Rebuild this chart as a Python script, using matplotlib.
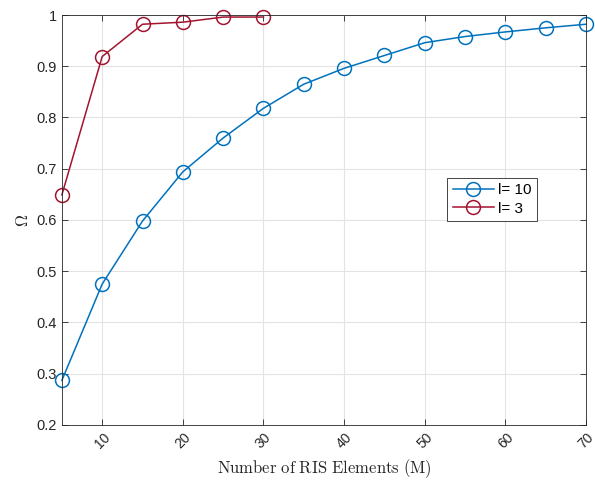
import matplotlib
matplotlib.use("Agg")
import matplotlib.pyplot as plt

plt.rcParams['font.family'] = ['Liberation Sans', 'DejaVu Sans']
plt.rcParams['mathtext.fontset'] = 'cm'

m_l10 = [5, 10, 15, 20, 25, 30, 35, 40, 45, 50, 55, 60, 65, 70]
omega_l10 = [0.287, 0.475, 0.598, 0.694, 0.760, 0.818, 0.865, 0.896,
             0.921, 0.946, 0.958, 0.967, 0.975, 0.982]

m_l3 = [5, 10, 15, 20, 25, 30]
omega_l3 = [0.649, 0.919, 0.982, 0.986, 0.996, 0.996]

x_ticks = [10, 20, 30, 40, 50, 60, 70]
y_ticks = [0.2, 0.3, 0.4, 0.5, 0.6, 0.7, 0.8, 0.9, 1.0]
y_labels = ['0.2', '0.3', '0.4', '0.5', '0.6', '0.7', '0.8', '0.9', '1']

fig = plt.figure(figsize=(5.95, 4.84), dpi=100)
ax = fig.add_axes([0.104, 0.122, 0.881, 0.847])

ax.plot(m_l10, omega_l10, color='#0072BD', marker='o', markersize=10,
        fillstyle='none', markeredgewidth=1.1, linewidth=1.1, label='l= 10',
        clip_on=False)
ax.plot(m_l3, omega_l3, color='#A2142F', marker='o', markersize=10,
        fillstyle='none', markeredgewidth=1.1, linewidth=1.1, label='l= 3',
        clip_on=False)

ax.set_xlim(5, 70)
ax.set_ylim(0.2, 1.0)
ax.set_xticks(x_ticks)
ax.set_yticks(y_ticks)
ax.set_yticklabels(y_labels)
plt.setp(ax.get_xticklabels(), rotation=45)

ax.grid(True, color='#e3e3e3', linewidth=0.8)
ax.set_axisbelow(True)
ax.tick_params(direction='in', top=True, right=True, labelsize=10.5,
               colors='#262626', length=4, width=0.6)
ax.tick_params(axis='x', pad=4, labelsize=10)
for s in ax.spines.values():
    s.set_color('#262626')
    s.set_linewidth(0.6)

ax.set_xlabel(r'$\mathrm{Number\ of\ RIS\ Elements\ (M)}$', fontsize=12,
              color='#262626', labelpad=4)
ax.set_ylabel(r'$\Omega$', fontsize=12, color='#262626', labelpad=4)

leg = ax.legend(loc='upper left', bbox_to_anchor=(0.735, 0.603),
                borderaxespad=0, fontsize=11, handlelength=2.7,
                borderpad=0.35, labelspacing=0.3, handletextpad=0.3,
                fancybox=False, framealpha=1)
leg.get_frame().set_edgecolor('#262626')
leg.get_frame().set_linewidth(0.6)

fig.savefig('out.png', dpi=100)
